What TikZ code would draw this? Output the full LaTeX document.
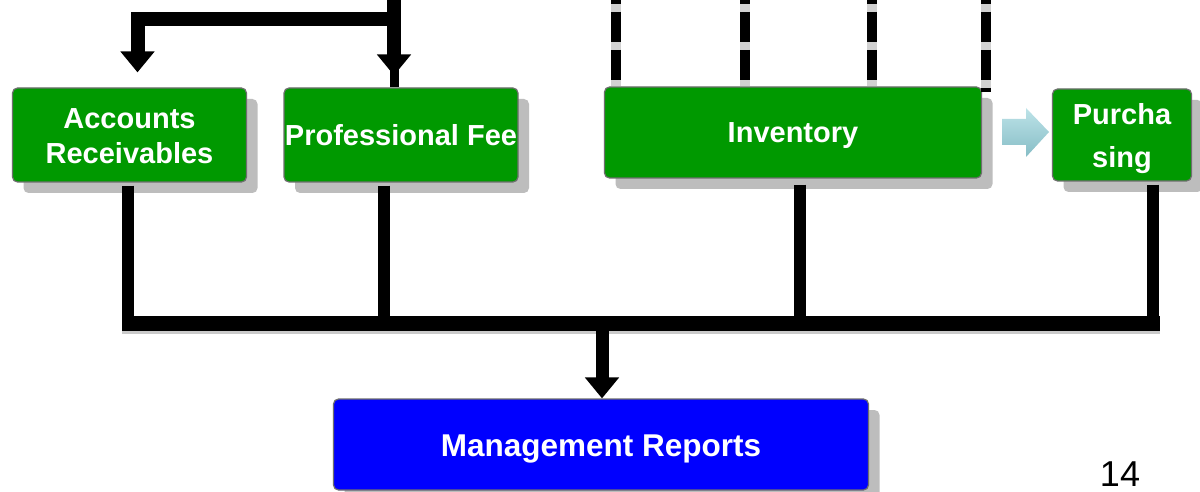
\documentclass[tikz,border=0pt]{standalone}
\usepackage{fontspec}
\setmainfont{Liberation Sans}
\usetikzlibrary{arrows.meta,shadows,calc}
\definecolor{boxgreen}{HTML}{009900}
\definecolor{boxblue}{HTML}{0000FF}
\definecolor{shadowgray}{HTML}{BDBDBD}
\definecolor{edgegray}{HTML}{6E6E6E}
\definecolor{arrowlight}{HTML}{BDE3E8}
\definecolor{arrowdark}{HTML}{86BDC6}
\tikzset{
  modbox/.style={rectangle, rounded corners=5pt, draw=edgegray, line width=1.2pt,
    fill=boxgreen, inner sep=0pt,
    drop shadow={shadow xshift=11pt, shadow yshift=-11pt, fill=shadowgray, opacity=1}},
  boxtext/.style={text=white, inner sep=0pt, align=center,
    font=\fontsize{29}{35}\selectfont\bfseries},
  bar/.style={line width=14pt, black},
  dropline/.style={line width=12pt, black},
  bigtip/.style={-{Triangle[width=33pt,length=21pt]}},
  dashline/.style={line width=10pt, black, dash pattern=on 30pt off 8pt, dash phase=26pt},
  dashunder/.style={line width=10pt, shadowgray!70},
}
\begin{document}
\begin{tikzpicture}[x=1pt,y=-1pt]
\useasboundingbox (0,0) rectangle (1200,492);
\fill[white] (0,0) rectangle (1200,492);

% boxes
\node[modbox, minimum width=234pt, minimum height=94pt,
  label={[boxtext, yshift=-1.5pt]center:Accounts\\Receivables}] (AR) at (129.5,135) {};
\node[modbox, minimum width=234pt, minimum height=94pt,
  label={[boxtext]center:Professional Fee}] (PF) at (401,135) {};
\node[modbox, minimum width=377pt, minimum height=91pt,
  label={[boxtext, yshift=-3pt]center:Inventory}] (Inv) at (793,132.5) {};
\node[modbox, minimum width=139pt, minimum height=92pt,
  label={[boxtext, yshift=-3.5pt]center:Purcha\\[8pt]sing}] (Pur) at (1122,135) {};
\node[modbox, fill=boxblue, minimum width=535pt, minimum height=91pt,
  label={[boxtext, font=\fontsize{31.5}{36}\selectfont\bfseries, yshift=-4pt]center:Management Reports}] (MR) at (601,444.5) {};

% top bracket
\coordinate (topR) at (394,0);
\coordinate (split) at (394,19.5);
\coordinate (arIn) at ($(AR.north)+(8,0)$);
\draw[line width=9pt] (topR) -- (PF.north -| topR);
\draw[bar, bigtip, shorten >=12pt] (topR) -- (PF.north -| topR);
\draw[bar, bigtip, shorten >=15pt, line join=miter] (split) -| (arIn);

% dashed lines into Inventory
\foreach \xx in {616,745,872} {
  \coordinate (d\xx) at (\xx,0);
  \draw[dashunder] (d\xx) -- (Inv.north -| d\xx);
  \draw[dashline] (d\xx) -- (Inv.north -| d\xx);
}
\coordinate (d986) at (986,0);
\coordinate (e986) at (986,92);
\draw[dashunder] (d986) -- (e986);
\draw[dashline] (d986) -- (e986);

% bus
\coordinate (busL) at (122,323);
\coordinate (busR) at (1160,323);
\draw[line width=4pt, shadowgray!80] ($(busL)+(0,9)$) -- ($(busR)+(0,9)$);
\draw[line width=15pt] (busL) -- (busR);

% drops to bus
\coordinate (a1) at ($(AR.south)+(-1.5,3)$);
\coordinate (a2) at ($(PF.south)+(-17,3)$);
\coordinate (a3) at ($(Inv.south)+(7,6)$);
\coordinate (a4) at ($(Pur.south)+(31,3)$);
\foreach \c in {a1,a2,a3,a4} {
  \draw[dropline] (\c) -- (\c |- busL);
}

% down arrow to management reports
\coordinate (busC) at ($(MR.north |- busL)+(1,0)$);
\draw[bar, line width=13pt, bigtip] (busC) -- (MR.north -| busC);

% block arrow to purchasing
\path[top color=arrowlight, bottom color=arrowdark]
  (1002,119) -- (1026,119) -- (1026,108) -- (1049,132) -- (1026,157) -- (1026,145) -- (1002,145) -- cycle;

% page number
\node[font=\fontsize{36}{40}\selectfont, inner sep=0pt] (pg) at (1120,474) {14};
\end{tikzpicture}
\end{document}
